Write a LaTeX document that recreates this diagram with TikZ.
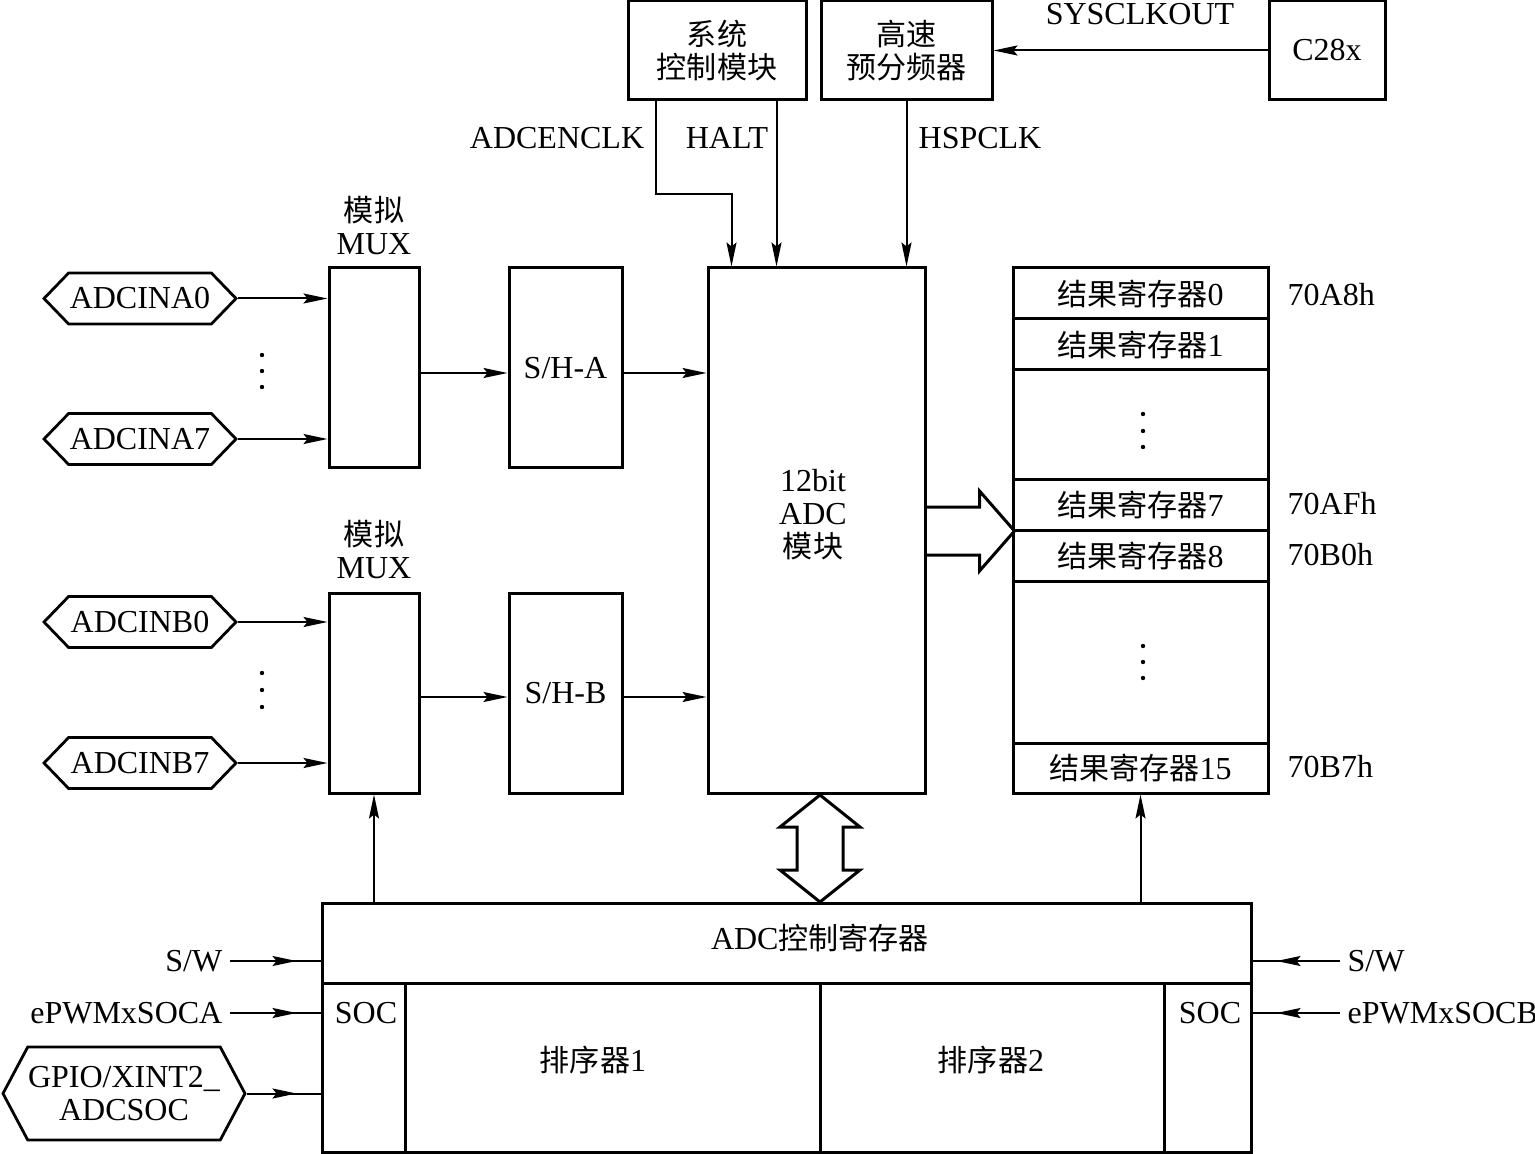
\documentclass[tikz,border=0pt]{standalone}
\usepackage{fontspec}
\setmainfont{Liberation Serif}
\newfontfamily\cjk[Scale=0.94]{Noto Sans CJK SC}
\newcommand{\zh}[1]{{\cjk #1}}
\usetikzlibrary{arrows.meta,positioning,calc,shapes.symbols,decorations.markings}

\begin{document}
\begin{tikzpicture}[x=0.5pt,y=-0.5pt,line width=1pt,
  font=\fontsize{16}{16.5}\selectfont,
  box/.style={draw,line width=1.5pt,inner sep=0pt,align=center},
  pin/.style={draw,line width=1.4pt,signal,signal to=west and east,signal pointer angle=92,
    minimum width=96pt,minimum height=25.5pt,inner sep=0pt},
  tip/.style={-{Stealth[length=12pt,width=5pt,inset=2pt]}},
  midtip/.style={postaction={decorate},decoration={markings,
    mark=at position -12pt with {\arrow{Stealth[length=12pt,width=5pt,inset=2pt]}}}}]
\useasboundingbox (0,0) rectangle (1535,1154);

% clock sources
\node[box,minimum width=89pt,minimum height=49.5pt] (sys) at (717,50.5) {\zh{系统}\\\zh{控制模块}};
\node[box,minimum width=85.5pt,minimum height=49.5pt] (hsp) at (906.5,50.5) {\zh{高速}\\\zh{预分频器}};
\node[box,minimum width=58pt,minimum height=49.5pt] (cpu) at (1327,50.5) {C28x};
\node (sysclk) at (1140,14) {SYSCLKOUT};

% converter
\node[box,minimum width=108.5pt,minimum height=262.5pt] (adc) at (816.5,530.5) {};
\node[align=center] (adctxt) at (813,515) {12bit\\ADC\\\zh{模块}};

% channel A
\node[box,minimum width=45pt,minimum height=100pt] (muxa) at (374,368) {};
\node[align=center] (muxalbl) at (374,226) {\zh{模拟}\\MUX};
\node[box,minimum width=56.5pt,minimum height=100pt] (sha) at (565.5,368) {S/H-A};
\node[pin] (ina0) at (140,298.5) {ADCINA0};
\node[pin] (ina7) at (140,439) {ADCINA7};

% channel B
\node[box,minimum width=45pt,minimum height=100pt] (muxb) at (374,693) {};
\node[align=center] (muxblbl) at (374,550) {\zh{模拟}\\MUX};
\node[box,minimum width=56.5pt,minimum height=100pt] (shb) at (565.5,693) {S/H-B};
\node[pin] (inb0) at (140,622) {ADCINB0};
\node[pin] (inb7) at (140,763) {ADCINB7};

% result registers
\foreach \n/\y/\h/\t in {r0/293.5/25.5/0,r1/344.5/25.5/1,r7/505/25/7,r8/555.5/25.5/8,r15/768/25/15}
  \node[box,minimum width=127.5pt,minimum height=\h pt] (\n) at (1140.5,\y) {\zh{结果寄存器}\t};
\node[box,minimum width=127.5pt,minimum height=55pt] (rd1) at (1140.5,425) {};
\node[box,minimum width=127.5pt,minimum height=81pt] (rd2) at (1140.5,662) {};
\node[anchor=west] (a0) at (1280,295) {70A8h};
\node[anchor=west] (a7) at (1280,504) {70AFh};
\node[anchor=west] (a8) at (1280,555) {70B0h};
\node[anchor=west] (a15) at (1280,767) {70B7h};

% control
\node[box,minimum width=464.5pt,minimum height=40pt] (ctrl) at (786.5,943) {};
\node (ctrltxt) at (820,938) {ADC\zh{控制寄存器}};
\node[box,minimum width=41.5pt,minimum height=84.5pt] (socl) at (363.5,1067.5) {};
\node[box,minimum width=207.5pt,minimum height=84.5pt] (seq1) at (612.5,1067.5) {};
\node[box,minimum width=172pt,minimum height=84.5pt] (seq2) at (992,1067.5) {};
\node[box,minimum width=43.5pt,minimum height=84.5pt] (socr) at (1207.5,1067.5) {};
\node (socltxt) at (366,1013) {SOC};
\node (socrtxt) at (1210,1013) {SOC};
\node (seq1txt) at (593,1060) {\zh{排序器}1};
\node (seq2txt) at (991,1060) {\zh{排序器}2};

% trigger inputs
\node[anchor=east] (swl) at (230,961) {S/W};
\node[anchor=east] (soca) at (230,1013) {ePWMxSOCA};
\node[pin,signal pointer angle=124,minimum width=121pt,minimum height=46.5pt,align=center] (gpio) at (124,1093.5) {GPIO/XINT2\_\\ADCSOC};
\node[anchor=west] (swr) at (1340,961) {S/W};
\node[anchor=west] (socb) at (1340,1013) {ePWMxSOCB};

% clock lines
\node (enlbl) at (557,138) {ADCENCLK};
\node (haltlbl) at (727,138) {HALT};
\node (hsplbl) at (980,138) {HSPCLK};
\coordinate (enin) at ([xshift=12.5pt]adc.north west);
\coordinate (haltin) at ([xshift=35pt]adc.north west);
\draw[tip] (cpu.west) -- (hsp.east);
\draw[tip] ([xshift=14.5pt]sys.south west) -- ++(0,93) -| (enin);
\draw[tip] (haltin |- sys.south) -- (haltin);
\draw[tip] (hsp.south) -- (hsp.south |- adc.north);

% signal path
\foreach \p in {ina0,ina7} \draw[tip] (\p.east) -- (\p.east -| muxa.west);
\foreach \p in {inb0,inb7} \draw[tip] (\p.east) -- (\p.east -| muxb.west);
\draw[tip] ([yshift=-2.5pt]muxa.east) -- ([yshift=-2.5pt]sha.west);
\draw[tip] ([yshift=-2.5pt]sha.east) -- ([yshift=-2.5pt]sha.east -| adc.west);
\draw[tip] ([yshift=-2pt]muxb.east) -- ([yshift=-2pt]shb.west);
\draw[tip] ([yshift=-2pt]shb.east) -- ([yshift=-2pt]shb.east -| adc.west);
\foreach \y in {355,371,387,673,690,707} \fill (262,\y) circle (1.1pt);
\foreach \y in {414,431,447,646,662,678} \fill (1143,\y) circle (1.1pt);

% wide arrows
\draw[line width=1.5pt] (adc.east) ++(0,-23.5) -- ++(53,0) -- ++(0,-16) -- ++(35,40)
  -- ++(-35,40) -- ++(0,-16) -- ++(-53,0);
\coordinate (bus) at (820,795);
\draw[line width=1.5pt] (bus) -- ++(40,32) -- ++(-17,0) -- ++(0,43) -- ++(17,0) -- ++(-40,32)
  -- ++(-40,-32) -- ++(17,0) -- ++(0,-43) -- ++(-17,0) -- cycle;

% control lines
\draw[tip] (ctrl.north -| muxb) -- (muxb.south);
\draw[tip] (ctrl.north -| r15) -- (r15.south);
\draw[midtip] (swl.east) -- (swl.east -| ctrl.west);
\draw[midtip] (soca.east) -- (soca.east -| socl.west);
\draw[midtip] (gpio.east) -- (gpio.east -| socl.west);
\draw[midtip] (swr.west) -- (swr.west -| ctrl.east);
\draw[midtip] (socb.west) -- (socb.west -| socr.east);
\end{tikzpicture}
\end{document}
